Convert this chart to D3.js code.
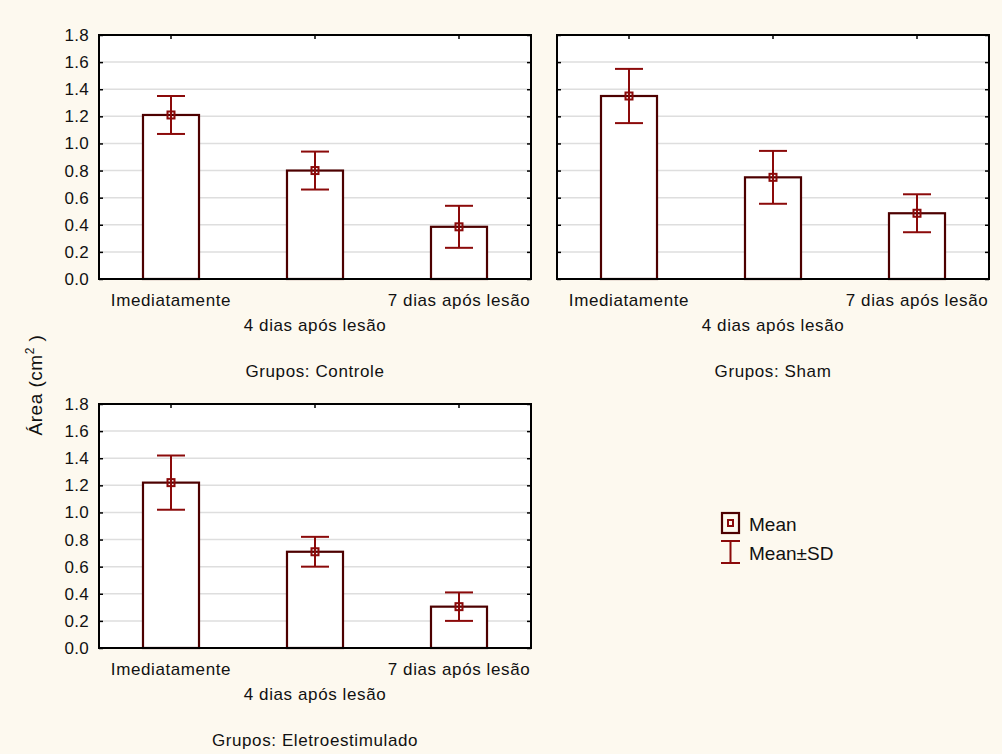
<!DOCTYPE html>
<html>
<head>
<meta charset="utf-8">
<script src="https://cdn.jsdelivr.net/npm/d3@7"></script>
<style>
  body { margin: 0; background: #fdf9ef; }
  svg { display: block; font-family: "Liberation Sans", Arial, sans-serif; }
</style>
</head>
<body>
<svg width="1002" height="754"></svg>
<script>
// data
var groups = ["Controle", "Sham", "Eletroestimulado"];
var periods = ["Imediatamente", "4 dias após lesão", "7 dias após lesão"];
var meanControle = [1.21, 0.80, 0.385];
var sdControle = [0.14, 0.14, 0.155];
var meanSham = [1.35, 0.75, 0.485];
var sdSham = [0.20, 0.195, 0.14];
var meanEletro = [1.22, 0.71, 0.305];
var sdEletro = [0.20, 0.11, 0.105];
var yTicks = [0, 0.2, 0.4, 0.6, 0.8, 1.0, 1.2, 1.4, 1.6, 1.8];

var means = [meanControle, meanSham, meanEletro];
var sds = [sdControle, sdSham, sdEletro];

var svg = d3.select("svg");
svg.append("rect").attr("width", 1002).attr("height", 754).attr("fill", "#fdf9ef");

var pw = 432, ph = 244;
var panels = [
  { x: 99, y: 35, labels: true },
  { x: 557, y: 35, labels: false },
  { x: 99, y: 404, labels: true }
];

var barStroke = "#4d0000";
var errColor = "#8b0a0a";

var x = d3.scaleBand().domain(periods).range([0, pw]).paddingInner(0.611).paddingOuter(0.3055);
var y = d3.scaleLinear().domain([0, 1.8]).range([ph, 0]);

panels.forEach(function(p, gi) {
  var g = svg.append("g").attr("transform", "translate(" + p.x + "," + p.y + ")");

  g.append("rect").attr("width", pw).attr("height", ph).attr("fill", "#fff");

  // grid
  g.selectAll(".grid")
    .data(yTicks.slice(1, -1))
    .enter()
    .append("line")
    .attr("x1", 0).attr("x2", pw)
    .attr("y1", function(d) { return y(d); })
    .attr("y2", function(d) { return y(d); })
    .attr("stroke", "#dedede")
    .attr("stroke-width", 1.5);

  // axes with inward ticks
  var left = g.append("g").call(
    d3.axisLeft(y).tickValues(yTicks).tickSize(-4).tickPadding(10)
      .tickFormat(p.labels ? d3.format(".1f") : function() { return ""; })
  );
  var right = g.append("g").attr("transform", "translate(" + pw + ",0)")
    .call(d3.axisRight(y).tickValues(yTicks).tickSize(-4).tickFormat(function() { return ""; }));
  var top = g.append("g").call(d3.axisTop(x).tickSize(-4).tickFormat(function() { return ""; }));
  var bottom = g.append("g").attr("transform", "translate(0," + ph + ")")
    .call(d3.axisBottom(x).tickSize(-4).tickFormat(function() { return ""; }));

  [left, right, top, bottom].forEach(function(a) {
    a.select(".domain").remove();
    a.selectAll("line").attr("stroke", "#000").attr("stroke-width", 1.5);
  });
  left.selectAll("text")
    .attr("font-size", 17)
    .attr("fill", "#111")
    .attr("font-family", "Liberation Sans, Arial, sans-serif")
    .attr("letter-spacing", 0.3);

  // bars
  var rows = periods.map(function(d, i) {
    return { period: d, mean: means[gi][i], sd: sds[gi][i] };
  });

  g.selectAll(".bar")
    .data(rows)
    .enter()
    .append("rect")
    .attr("x", function(d) { return x(d.period); })
    .attr("y", function(d) { return y(d.mean); })
    .attr("width", x.bandwidth())
    .attr("height", function(d) { return ph - y(d.mean); })
    .attr("fill", "#fff")
    .attr("stroke", barStroke)
    .attr("stroke-width", 2.2);

  // error bars
  var cx = function(d) { return x(d.period) + x.bandwidth() / 2; };
  var eb = g.selectAll(".err").data(rows).enter().append("g").attr("fill", "none").attr("stroke", errColor).attr("stroke-width", 2);
  eb.append("line")
    .attr("x1", cx).attr("x2", cx)
    .attr("y1", function(d) { return y(d.mean + d.sd); })
    .attr("y2", function(d) { return y(d.mean - d.sd); });
  eb.append("line")
    .attr("x1", function(d) { return cx(d) - 14; })
    .attr("x2", function(d) { return cx(d) + 14; })
    .attr("y1", function(d) { return y(d.mean + d.sd); })
    .attr("y2", function(d) { return y(d.mean + d.sd); });
  eb.append("line")
    .attr("x1", function(d) { return cx(d) - 14; })
    .attr("x2", function(d) { return cx(d) + 14; })
    .attr("y1", function(d) { return y(d.mean - d.sd); })
    .attr("y2", function(d) { return y(d.mean - d.sd); });
  eb.append("rect")
    .attr("x", function(d) { return cx(d) - 3.5; })
    .attr("y", function(d) { return y(d.mean) - 3.5; })
    .attr("width", 7).attr("height", 7);

  // frame
  g.append("rect").attr("width", pw).attr("height", ph)
    .attr("fill", "none").attr("stroke", "#000").attr("stroke-width", 2);

  // staggered category labels
  g.selectAll(".xl")
    .data(periods)
    .enter()
    .append("text")
    .attr("x", function(d) { return x(d) + x.bandwidth() / 2; })
    .attr("y", function(d, i) { return ph + (i % 2 === 0 ? 27 : 52); })
    .attr("text-anchor", "middle")
    .attr("font-size", 17)
    .attr("letter-spacing", 0.6)
    .attr("fill", "#111")
    .text(function(d) { return d; });

  g.append("text")
    .attr("x", pw / 2)
    .attr("y", ph + 98)
    .attr("text-anchor", "middle")
    .attr("font-size", 17)
    .attr("letter-spacing", 0.6)
    .attr("fill", "#111")
    .text("Grupos: " + groups[gi]);
});

// y axis title
var yt = svg.append("text")
  .attr("transform", "translate(42,385) rotate(-90)")
  .attr("text-anchor", "middle")
  .attr("font-size", 19)
  .attr("letter-spacing", 0.5)
  .attr("fill", "#111");
yt.append("tspan").text("Área (cm");
yt.append("tspan").attr("font-size", 12).attr("dy", -8).text("2");
yt.append("tspan").attr("dy", 8).text(" )");

// legend
var lg = svg.append("g");
lg.append("rect").attr("x", 722).attr("y", 513).attr("width", 17).attr("height", 20)
  .attr("fill", "none").attr("stroke", barStroke).attr("stroke-width", 2.2);
lg.append("rect").attr("x", 728).attr("y", 520).attr("width", 5).attr("height", 6)
  .attr("fill", "none").attr("stroke", errColor).attr("stroke-width", 2);
lg.append("line").attr("x1", 730.5).attr("x2", 730.5).attr("y1", 541).attr("y2", 563)
  .attr("stroke", errColor).attr("stroke-width", 2);
lg.append("line").attr("x1", 721).attr("x2", 740).attr("y1", 541).attr("y2", 541)
  .attr("stroke", errColor).attr("stroke-width", 2);
lg.append("line").attr("x1", 721).attr("x2", 740).attr("y1", 563).attr("y2", 563)
  .attr("stroke", errColor).attr("stroke-width", 2);
lg.append("text").attr("x", 749).attr("y", 531).attr("font-size", 19).attr("fill", "#111").text("Mean");
lg.append("text").attr("x", 749).attr("y", 560).attr("font-size", 19).attr("fill", "#111").text("Mean±SD");
</script>
</body>
</html>
